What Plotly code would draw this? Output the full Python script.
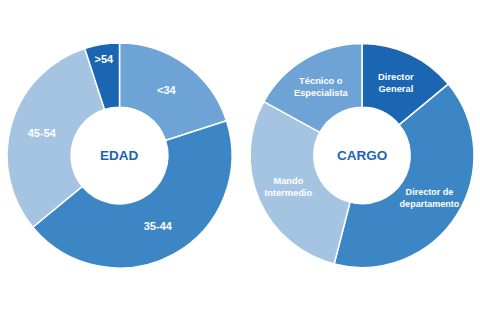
import plotly.graph_objects as go

edad_labels = ["<34", "35-44", "45-54", ">54"]
edad_values = [20, 44, 31, 5]
edad_colors = ["#6ea3d6", "#3d86c6", "#a4c4e2", "#1a66b3"]

cargo_labels = ["Director<br>General", "Director de<br>departamento", "Mando<br>Intermedio", "Técnico o<br>Especialista"]
cargo_values = [14, 40, 29, 17]
cargo_colors = ["#1a66b3", "#3d86c6", "#a4c4e2", "#6ea3d6"]

W, H = 480, 316
font_family = "Liberation Sans, Arial, sans-serif"

def pie(labels, values, colors, x0, x1, y0, y1, fs):
    return go.Pie(
        labels=labels, values=values, text=labels, textinfo="text",
        textposition="inside", insidetextorientation="horizontal",
        marker=dict(colors=colors, line=dict(color="white", width=1.5)),
        hole=0.43, sort=False, direction="clockwise", rotation=0,
        domain=dict(x=[x0 / W, x1 / W], y=[(H - y1) / H, (H - y0) / H]),
        textfont=dict(family=font_family, size=fs, color="white", weight="bold"),
        hoverinfo="label+value", showlegend=False,
    )

fig = go.Figure()
fig.add_trace(pie(edad_labels, edad_values, edad_colors, 4, 235, 43, 268, 11))
fig.add_trace(pie(cargo_labels, cargo_values, cargo_colors, 250, 474, 43, 268, 9.3))

for txt, x0, x1 in [("EDAD", 4, 235), ("CARGO", 250, 474)]:
    fig.add_annotation(
        text=txt, x=(x0 + x1) / 2 / W, y=(H - (43 + 268) / 2) / H,
        xref="paper", yref="paper", showarrow=False,
        xanchor="center", yanchor="middle",
        font=dict(family=font_family, size=13.5, color="#1a66b3", weight="bold"),
    )

fig.update_layout(
    width=W, height=H, margin=dict(l=0, r=0, t=0, b=0),
    paper_bgcolor="white", plot_bgcolor="white",
)
fig.write_html("out.html")
